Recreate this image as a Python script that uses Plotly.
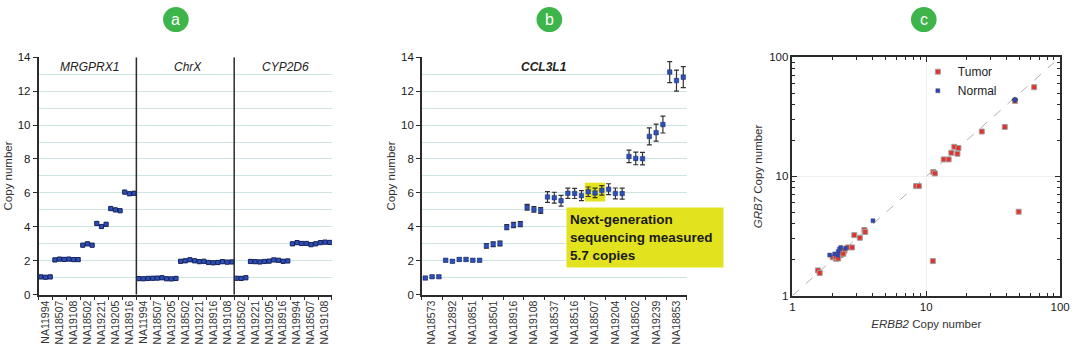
import plotly.graph_objects as go

# ---------------- DATA ----------------
# Panel a
a_genes = ["MRGPRX1", "ChrX", "CYP2D6"]
a_samples = [
    ["NA11994", "NA18507", "NA19108", "NA18502", "NA19221", "NA19205", "NA18916"],
    ["NA11994", "NA18507", "NA19205", "NA18502", "NA19221", "NA18916", "NA19108"],
    ["NA18502", "NA19221", "NA19205", "NA18916", "NA19994", "NA18507", "NA19108"],
]
a_values = [
    [[1.05, 1.03, 1.05], [2.05, 2.1, 2.08], [2.1, 2.07, 2.07], [2.92, 3.0, 2.92],
     [4.2, 4.02, 4.15], [5.08, 5.0, 4.95], [6.05, 5.95, 5.98]],
    [[0.95, 0.94, 0.96], [0.97, 0.98, 1.0], [0.94, 0.93, 0.96], [1.97, 2.0, 2.06],
     [2.0, 1.95, 1.97], [1.9, 1.88, 1.9], [1.95, 1.92, 1.93]],
    [[0.97, 0.96, 1.0], [1.96, 1.95, 1.93], [1.96, 1.98, 2.05], [2.03, 1.97, 1.99],
     [3.0, 3.07, 3.02], [3.02, 2.95, 3.0], [3.07, 3.1, 3.08]],
]
a_err = 0.09

# Panel b
b_gene = "CCL3L1"
b_samples = ["NA18573", "NA12892", "NA10851", "NA18501", "NA18916", "NA19108", "NA18537",
             "NA18516", "NA18507", "NA19204", "NA18502", "NA19239", "NA18853"]
b_values = [
    [0.98, 1.06, 1.06], [2.03, 1.97, 2.08], [2.08, 2.03, 2.03], [2.88, 2.97, 3.02],
    [3.98, 4.11, 4.16], [5.16, 5.03, 4.97], [5.76, 5.72, 5.54], [5.98, 5.97, 5.84],
    [6.07, 6.0, 6.15], [6.22, 5.97, 5.96], [8.15, 8.03, 8.02], [9.33, 9.55, 10.03],
    [13.12, 12.62, 12.82],
]
b_err = [0.07, 0.08, 0.08, 0.14, 0.15, 0.17, 0.32, 0.3, 0.28, 0.32, 0.37, 0.5, 0.62]
b_highlight = "NA18507"
b_note = "Next-generation<br>sequencing measured<br>5.7 copies"

# Panel c
tumor_erbb2 = [1.55, 1.6, 2.0, 2.12, 2.11, 2.3, 2.38, 2.25, 2.45, 2.4, 2.59, 2.79, 2.2,
               2.9, 3.19, 3.45, 3.5, 8.4, 8.8, 11.3, 11.6, 11.2, 13.5, 14.7, 15.4, 16.2,
               17.1, 17.4, 26, 38.6, 46, 49, 64]
tumor_grb7 = [1.63, 1.55, 2.1, 2.04, 2.11, 2.19, 2.31, 2.2, 2.39, 2.25, 2.54, 2.54, 2.05,
              3.22, 3.06, 3.55, 3.42, 8.3, 8.3, 10.9, 10.6, 1.95, 13.9, 13.9, 15.8, 17.7,
              15.5, 17.3, 23.8, 26, 43, 5.06, 56]
normal_erbb2 = [1.9, 2.07, 2.18, 2.25, 2.3, 2.5, 2.2, 4.0, 46]
normal_grb7 = [2.19, 2.24, 2.18, 2.46, 2.54, 2.5, 2.35, 4.25, 44]
normal_err_x = [0, 0, 0, 0, 0, 0, 0, 0, 2.5]
normal_err_y = [0, 0, 0, 0, 0, 0, 0, 0, 2.5]
diag = [1, 100]

# ---------------- STYLE ----------------
FONT = "Liberation Sans, Arial, sans-serif"
W, H = 1080, 349
GRID = "#cfe4e4"
AX = "#2b2b2b"
BLUE = "#2d4fb8"
RED = "#e3312d"
GREEN = "#3db54a"
YEL = "#e2e21e"

def px(x):
    return x / W

def py(y):
    return 1 - y / H

A_DOM = [px(36), px(333)]
B_DOM = [px(424), px(692)]
C_DOM = [px(799), px(1070)]
Y_DOM = [py(299), py(53)]
YC_DOM = [py(300), py(53)]

fig = go.Figure()

# ---- panel a traces ----
rep = 3
a_x, a_y, a_tick_x, a_tick_t = [], [], [], []
idx = 0
for g, gene in enumerate(a_genes):
    for s, name in enumerate(a_samples[g]):
        for r in range(rep):
            a_x.append(idx)
            a_y.append(a_values[g][s][r])
            idx += 1
        a_tick_x.append(idx - 2)
        a_tick_t.append(name)
a_n = idx
fig.add_trace(go.Scatter(
    x=a_x, y=a_y, mode="markers", xaxis="x", yaxis="y", showlegend=False,
    marker=dict(symbol="square", size=4.2, color=BLUE, line=dict(color="#16235e", width=1)),
    error_y=dict(type="constant", value=a_err, color="#222", thickness=1, width=1.2),
))

# ---- panel b traces ----
b_x, b_y, b_e, b_tick_x = [], [], [], []
idx = 0
for s, name in enumerate(b_samples):
    for r in range(rep):
        b_x.append(idx)
        b_y.append(b_values[s][r])
        b_e.append(b_err[s])
        idx += 1
    b_tick_x.append(idx - 2)
b_n = idx
hi = b_samples.index(b_highlight)
fig.add_shape(type="rect", xref="x2", yref="y2", x0=hi * rep - 0.5, x1=hi * rep + rep - 0.5,
              y0=5.5, y1=6.6, fillcolor=YEL, line=dict(width=0), layer="below")
fig.add_trace(go.Scatter(
    x=b_x, y=b_y, mode="markers", xaxis="x2", yaxis="y2", showlegend=False,
    marker=dict(symbol="square", size=4.5, color=BLUE, line=dict(color="#1a2a66", width=0.5)),
    error_y=dict(type="data", array=b_e, color="#333", thickness=1.2, width=2.5),
))

# ---- panel c traces ----
fig.add_trace(go.Scatter(
    x=diag, y=diag, mode="lines", xaxis="x3", yaxis="y3", showlegend=False,
    line=dict(color="#b0b0b0", width=1, dash="dash"), hoverinfo="skip",
))
fig.add_trace(go.Scatter(
    x=tumor_erbb2, y=tumor_grb7, mode="markers", name="Tumor", xaxis="x3", yaxis="y3",
    marker=dict(symbol="square", size=5, color=RED, line=dict(color="#a0a0a0", width=1)),
))
fig.add_trace(go.Scatter(
    x=normal_erbb2, y=normal_grb7, mode="markers", name="Normal", xaxis="x3", yaxis="y3",
    marker=dict(symbol="square", size=4, color="#2a44c8", line=dict(color="#555", width=0.5)),
    error_x=dict(type="data", array=normal_err_x, color="#111", thickness=1, width=0),
    error_y=dict(type="data", array=normal_err_y, color="#111", thickness=1, width=0),
))

# ---- dividers in panel a ----
pos = -0.5
for g in range(len(a_genes) - 1):
    pos += len(a_samples[g]) * rep
    fig.add_shape(type="line", xref="x", yref="y", x0=pos, x1=pos, y0=0, y1=14,
                  line=dict(color=AX, width=1.5))

# gene labels panel a
pos = -0.5
for g, gene in enumerate(a_genes):
    w = len(a_samples[g]) * rep
    fig.add_annotation(x=pos + w / 2 + 0.5, y=13.45, xref="x", yref="y", text="<i>%s</i>" % gene,
                       showarrow=False, font=dict(family=FONT, size=12, color="#222"))
    pos += w
fig.add_annotation(x=px(548), y=py(63), xref="paper", yref="paper", text="<b><i>%s</i></b>" % b_gene,
                   showarrow=False, xanchor="center", yanchor="middle",
                   font=dict(family=FONT, size=12, color="#222"))

# note box panel b
fig.add_annotation(x=px(650), y=py(239.5), xref="paper", yref="paper", text="<b>%s</b>" % b_note,
                   showarrow=False, align="left", bgcolor=YEL, width=150, height=53, borderpad=3,
                   font=dict(family=FONT, size=13.5, color="#1a1a1a"), xanchor="center", yanchor="middle")

# badges
for cx, letter in [(175, "a"), (553, "b"), (932, "c")]:
    fig.add_shape(type="circle", xref="paper", yref="paper", x0=px(cx - 13), x1=px(cx + 13),
                  y0=py(14 + 13), y1=py(14 - 13), fillcolor=GREEN, line=dict(width=0))
    fig.add_annotation(x=px(cx), y=py(14), xref="paper", yref="paper", text=letter, showarrow=False,
                       xanchor="center", yanchor="middle",
                       font=dict(family=FONT, size=16, color="white"))

tickfont = dict(family=FONT, size=11.5, color="#1a1a1a")
xtickfont = dict(family=FONT, size=10.5, color="#333")

def lin_y(domain, anchor, title):
    return dict(domain=domain, anchor=anchor, range=[0, 14], tickvals=list(range(0, 15, 2)),
                ticks="outside", ticklen=4, tickcolor=AX, showline=True, linecolor=AX, linewidth=1.5,
                showgrid=True, gridcolor=GRID, gridwidth=1, zeroline=False, tickfont=tickfont,
                minor=dict(dtick=1, showgrid=True, gridcolor=GRID, ticks=""),
                title=dict(text=title, font=dict(family=FONT, size=11.5, color="#333"), standoff=3))

def lin_x(domain, anchor, n, tx, tt):
    return dict(domain=domain, anchor=anchor, range=[-0.5, n - 0.5], tickvals=tx, ticktext=tt,
                tickangle=-90, ticks="", showline=True, linecolor=AX, linewidth=1.5, showgrid=False,
                zeroline=False, tickfont=xtickfont,
                minor=dict(tick0=-0.5, dtick=rep, ticks="outside", ticklen=4, tickcolor=AX, showgrid=False))

def over_x(over, domain, n):
    return dict(overlaying=over, side="top", domain=domain, range=[-0.5, n - 0.5], tick0=-0.5, dtick=rep,
                ticks="inside", ticklen=4, tickcolor=AX, showticklabels=False, showgrid=False,
                showline=True, linecolor=AX, linewidth=1.5, zeroline=False)

def over_y(over, anchorx):
    return dict(overlaying=over, side="right", anchor=anchorx, range=[0, 14], dtick=1, ticks="inside",
                ticklen=4, tickcolor=AX, showticklabels=False, showgrid=False, showline=True,
                linecolor=AX, linewidth=1.5, zeroline=False)

logax = dict(type="log", range=[0, 2], tickvals=[1, 10, 100], ticktext=["1", "10", "100"],
             ticks="inside", ticklen=5, tickcolor=AX, showline=True, linecolor=AX, linewidth=1.5,
             mirror="ticks", showgrid=True, gridcolor="#f0f0f0", zeroline=False, tickfont=tickfont,
             minor=dict(tickvals=[2, 3, 4, 5, 6, 7, 8, 9, 20, 30, 40, 50, 60, 70, 80, 90],
                        ticks="inside", ticklen=3, tickcolor=AX, showgrid=False))

fig.update_layout(
    width=W, height=H, margin=dict(l=0, r=0, t=0, b=0),
    paper_bgcolor="white", plot_bgcolor="white",
    font=dict(family=FONT, color="#222"),
    xaxis=lin_x(A_DOM, "y", a_n, a_tick_x, a_tick_t),
    yaxis=lin_y(Y_DOM, "x", "Copy number"),
    xaxis2=lin_x(B_DOM, "y2", b_n, b_tick_x, b_samples),
    yaxis2=lin_y(Y_DOM, "x2", "Copy number"),
    xaxis3=dict(domain=C_DOM, anchor="y3",
                title=dict(text="<i>ERBB2</i> Copy number", font=dict(family=FONT, size=11.5, color="#333"),
                           standoff=8), **logax),
    yaxis3=dict(domain=YC_DOM, anchor="x3",
                title=dict(text="<i>GRB7</i> Copy number", font=dict(family=FONT, size=11.5, color="#333"),
                           standoff=4), **logax),
    xaxis4=over_x("x", A_DOM, a_n),
    yaxis4=over_y("y", "x"),
    xaxis5=over_x("x2", B_DOM, b_n),
    yaxis5=over_y("y2", "x2"),
    legend=dict(x=px(926), y=py(53), xanchor="left", yanchor="top", bgcolor="rgba(0,0,0,0)",
                font=dict(family=FONT, size=12, color="#222"), itemsizing="trace",
                tracegroupgap=0, itemwidth=30),
    showlegend=True,
)

fig.write_html("out.html")
